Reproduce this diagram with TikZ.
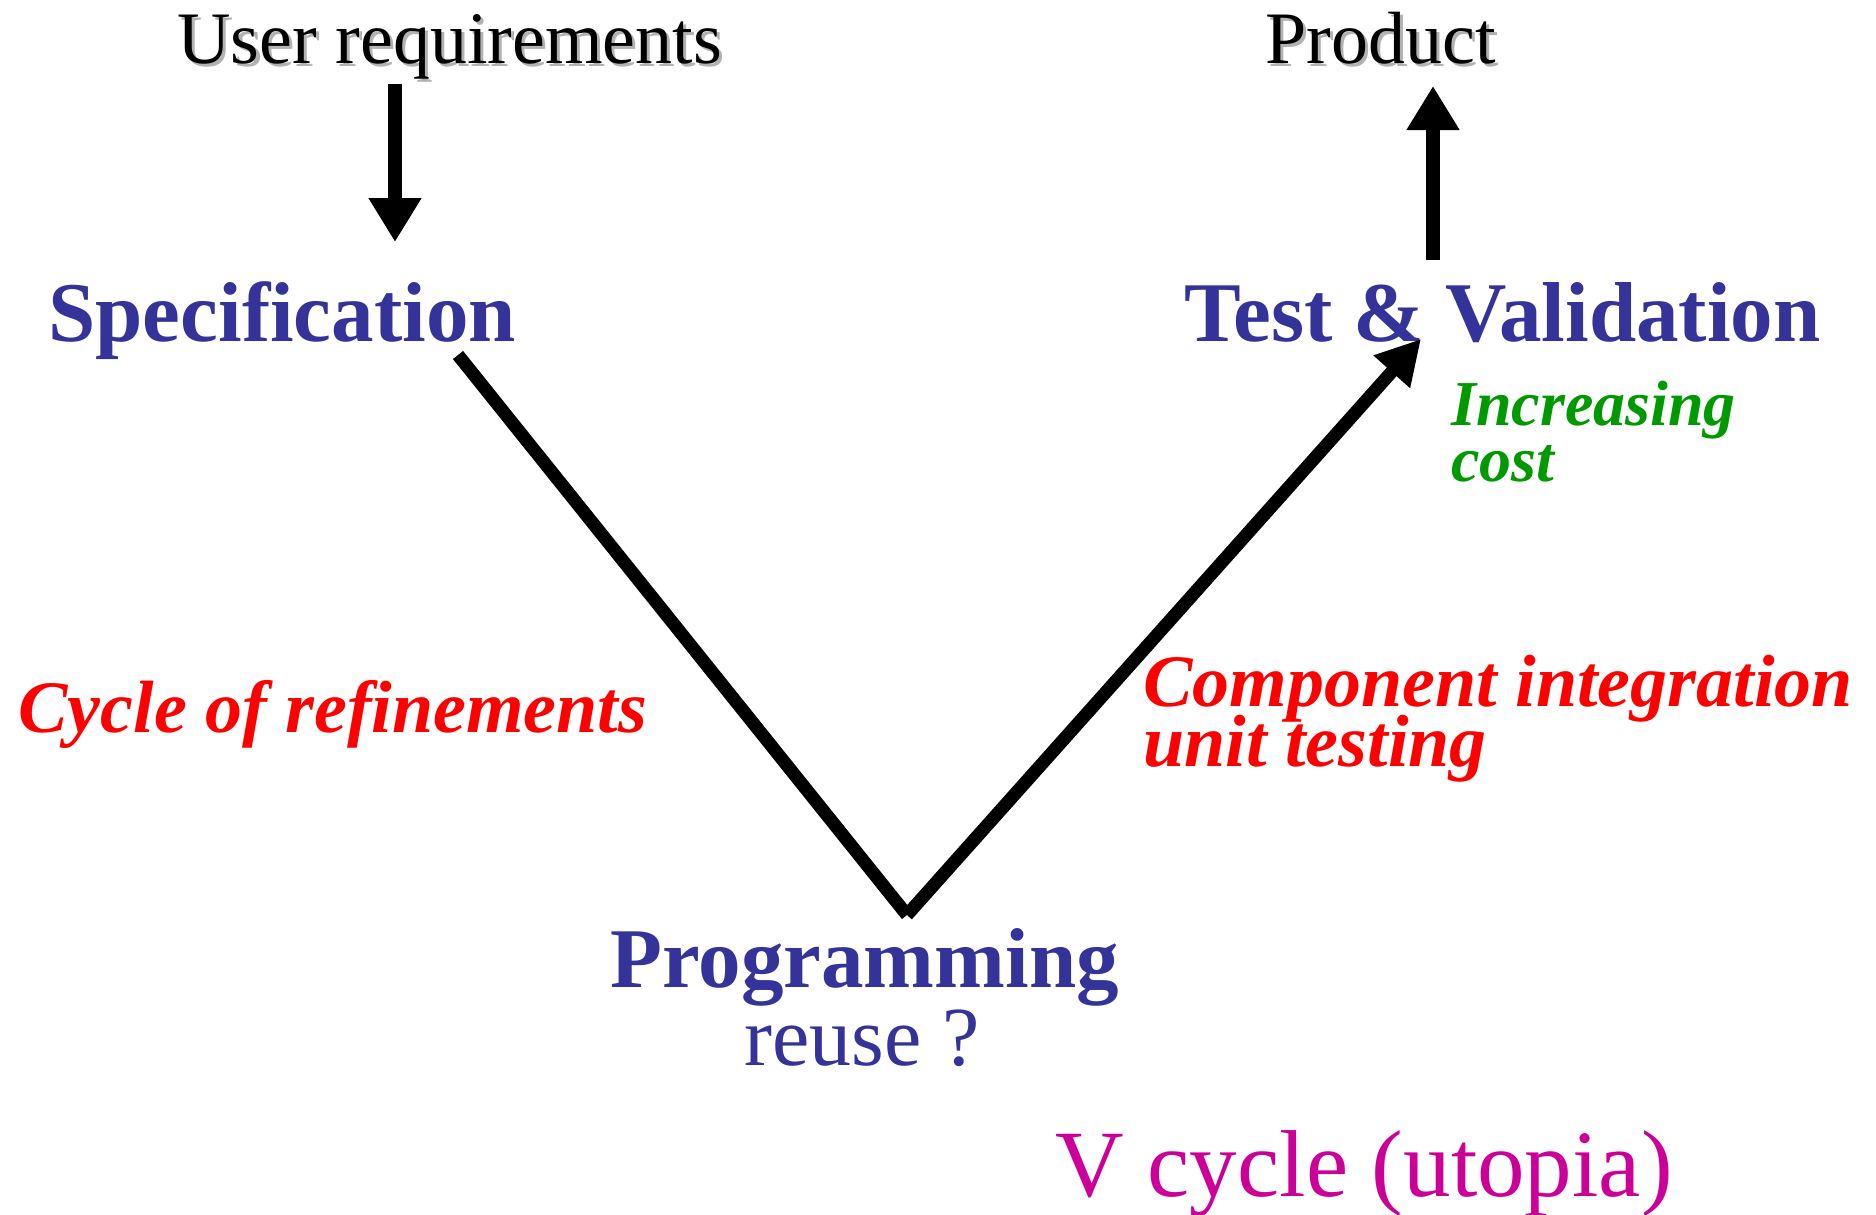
\documentclass[tikz,border=0pt]{standalone}
\usepackage{fontspec}
\setmainfont{Liberation Serif}
\usetikzlibrary{arrows.meta, calc, positioning}

\definecolor{stageblue}{RGB}{51,51,153}
\definecolor{costgreen}{RGB}{0,153,0}
\definecolor{notered}{RGB}{255,0,0}
\definecolor{titlemag}{RGB}{204,0,153}

\newcommand\shadowed[1]{\leavevmode\rlap{\kern1.6pt\raisebox{-1.6pt}{\color{black!30}#1}}#1}
\newcommand\tightlines{\lineskiplimit=-50pt\relax}

\begin{document}
\begin{tikzpicture}[x=0.5pt,y=-0.5pt,
	txt/.style={inner sep=0pt, anchor=base west},
	stage/.style={txt, text=stageblue, font=\fontsize{42.5}{46}\selectfont\bfseries},
	note/.style={txt, text=notered, align=left, font=\fontsize{37}{30}\selectfont\bfseries\itshape\tightlines},
	fatarrow/.style={line width=7pt, -{Triangle[length=22pt,width=25pt]}},
	vline/.style={line width=6.5pt},
	varrow/.style={vline, -{Triangle[length=22pt,width=23pt]}}]
	\useasboundingbox (0,0) rectangle (1876,1215);

	\node[txt, font=\fontsize{37}{40}\selectfont] (ureq) at (177,63) {\shadowed{User requirements}};
	\node[txt, font=\fontsize{37}{40}\selectfont] (product) at (1265,63) {\shadowed{Product}};

	\node[stage] (spec) at (48,341) {Specification};
	\node[stage] (testval) at (1184,341) {Test \& Validation};
	\node[stage] (prog) at (610,987) {Programming};
	\node[txt, text=stageblue, font=\fontsize{42}{46}\selectfont] (reuse) at (744,1065) {reuse ?};

	% multi-line nodes: base is the last line
	\node[txt, text=costgreen, align=left, font=\fontsize{32}{28}\selectfont\bfseries\itshape\tightlines] (cost) at (1451,481) {Increasing\\cost};
	\node[note] (refine) at (18,732) {Cycle of refinements};
	\node[note] (integ) at (1143,766) {Component integration\\unit testing};

	\node[txt, text=titlemag, font=\fontsize{47.5}{50}\selectfont] (vcycle) at (1055,1196) {V cycle (utopia)};

	\coordinate (vtip) at (907,915);

	\draw[fatarrow] ($(ureq.base west)+(218,21)$) -- ($(spec.base west)+(347,-99)$);
	\draw[fatarrow] ($(testval.base west)+(249,-81)$) -- ($(product.base west)+(168,23)$);
	\draw[vline] ($(spec.base west)+(410,14)$) -- (vtip);
	\draw[varrow] (vtip) -- ($(testval.base west)+(237,-2)$);
\end{tikzpicture}
\end{document}
